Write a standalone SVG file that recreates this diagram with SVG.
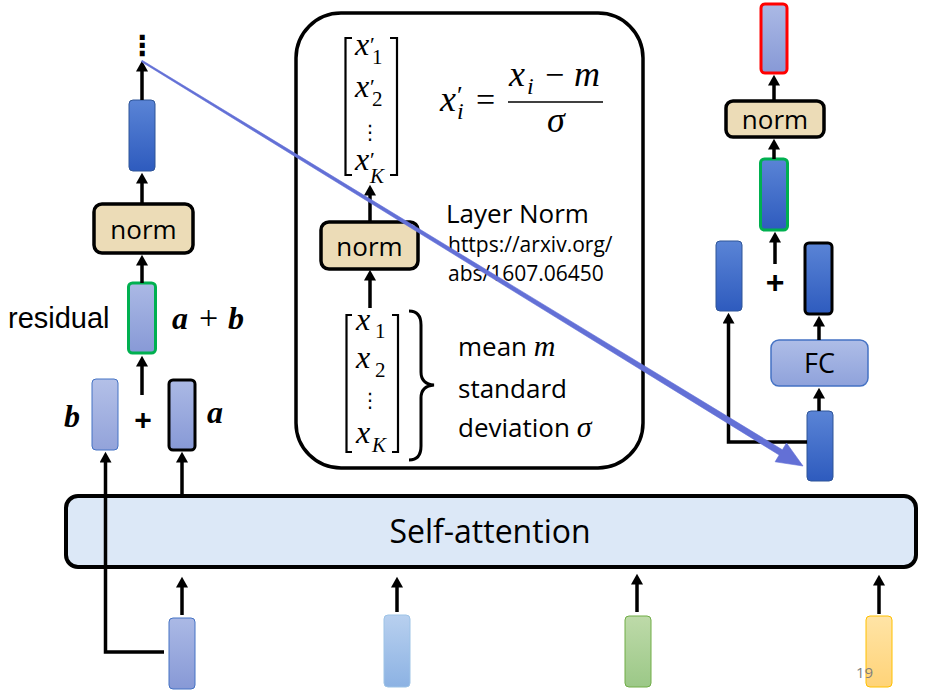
<svg xmlns="http://www.w3.org/2000/svg" width="935" height="692" viewBox="0 0 935 692">
<defs>
<linearGradient id="gDark" x1="0" y1="0" x2="0" y2="1"><stop offset="0" stop-color="#5a84d6"/><stop offset="1" stop-color="#2e5bbe"/></linearGradient>
<linearGradient id="gLight" x1="0" y1="0" x2="0" y2="1"><stop offset="0" stop-color="#abb9e5"/><stop offset="1" stop-color="#8799d6"/></linearGradient>
<linearGradient id="gSky" x1="0" y1="0" x2="0" y2="1"><stop offset="0" stop-color="#b8d0ef"/><stop offset="1" stop-color="#8cb2e3"/></linearGradient>
<linearGradient id="gGreen" x1="0" y1="0" x2="0" y2="1"><stop offset="0" stop-color="#bedaa9"/><stop offset="1" stop-color="#9bc887"/></linearGradient>
<linearGradient id="gYellow" x1="0" y1="0" x2="0" y2="1"><stop offset="0" stop-color="#ffe4a6"/><stop offset="1" stop-color="#ffd378"/></linearGradient>
<linearGradient id="gFC" x1="0" y1="0" x2="0" y2="1"><stop offset="0" stop-color="#aebde7"/><stop offset="1" stop-color="#8fa2db"/></linearGradient>
<marker id="ah" markerUnits="userSpaceOnUse" markerWidth="12" markerHeight="12" viewBox="0 0 10 11" refX="6" refY="5.5" orient="auto"><path d="M0,0 L10,5.5 L0,11 z" fill="#000"/></marker>
<style>
.sans{font-family:"Open Sans","Liberation Sans",sans-serif;fill:#000}
.arial{font-family:"Liberation Sans",Arial,sans-serif;fill:#000}
.mi{font-family:"Liberation Serif","DejaVu Serif",serif;font-style:italic;fill:#000}
.mr{font-family:"Liberation Serif","DejaVu Serif",serif;font-style:normal;fill:#000}
.mb{font-family:"Liberation Serif","DejaVu Serif",serif;font-style:italic;font-weight:bold;fill:#000}
.vd{font-family:"DejaVu Sans",sans-serif;fill:#000}
.norm{fill:#ecdcb7;stroke:#000;stroke-width:3.5}
.dark{fill:url(#gDark);stroke:#2f5597;stroke-width:1}
.light{fill:url(#gLight);stroke:#4472c4;stroke-width:1}
.conn line,.conn path.a{stroke:#000;stroke-width:3.5;fill:none;marker-end:url(#ah)}
.br{fill:none;stroke:#000;stroke-width:2.2}
</style>
</defs>
<rect width="935" height="692" fill="#fff"/>

<!-- left column -->
<g id="dots-left"><text x="142" y="55" class="vd" font-size="28" font-weight="bold" text-anchor="middle">⋮</text></g>
<g id="left-out"><rect x="129" y="100" width="26" height="71" rx="4" class="dark"/></g>
<g id="left-norm"><rect x="94" y="204" width="99" height="49" rx="8" class="norm"/><text x="143.5" y="239" class="sans" font-size="26" text-anchor="middle">norm</text></g>
<g id="left-residual"><rect x="128.5" y="283" width="27" height="70" rx="4" fill="url(#gLight)" stroke="#00b050" stroke-width="3"/>
<text x="8" y="328" class="arial" font-size="29">residual</text>
<text y="329" class="mb" font-size="32"><tspan x="172">a</tspan><tspan x="199" class="mr" font-weight="normal" font-size="34">+</tspan><tspan x="228">b</tspan></text></g>
<g id="left-b"><rect x="92" y="379" width="26" height="71" rx="4" class="light" fill-opacity="0.9"/><text x="64" y="427" class="mb" font-size="32">b</text></g>
<g id="left-plus"><text x="143" y="430" class="arial" font-size="30" font-weight="bold" text-anchor="middle">+</text></g>
<g id="left-a"><rect x="169" y="380" width="26" height="70" rx="4" fill="url(#gLight)" stroke="#000" stroke-width="3"/><text x="207" y="423" class="mb" font-size="32">a</text></g>

<!-- middle panel -->
<g id="layernorm-panel">
<rect x="296" y="13" width="347" height="455" rx="45" fill="#fff" stroke="#000" stroke-width="3.5"/>
<path class="br" d="M352,38 H345.5 V175 H352"/>
<path class="br" d="M390,38 H397 V175 H390"/>
<text x="355" y="55" class="mi" font-size="32">x<tspan class="mr" font-size="22" x="370" dy="-3">′</tspan><tspan class="mr" font-size="21" x="372" dy="12">1</tspan></text>
<text x="355" y="97" class="mi" font-size="32">x<tspan class="mr" font-size="22" x="370" dy="-3">′</tspan><tspan class="mr" font-size="21" x="372" dy="12">2</tspan></text>
<text x="370" y="139" class="vd" font-size="20" text-anchor="middle">⋮</text>
<text x="355" y="170" class="mi" font-size="32">x<tspan class="mr" font-size="22" x="370" dy="-3">′</tspan><tspan font-size="21" x="370" dy="16">K</tspan></text>
<text x="440" y="111" class="mi" font-size="36">x<tspan class="mr" font-size="26" x="457" dy="-7">′</tspan><tspan font-size="24" x="457" dy="15">i</tspan></text>
<text x="476" y="111" class="mr" font-size="34">=</text>
<text x="509" y="86" class="mi" font-size="36">x<tspan font-size="24" x="527" dy="8">i</tspan><tspan class="mr" font-size="34" x="545" dy="-8">−</tspan><tspan x="574">m</tspan></text>
<line x1="508" y1="102" x2="603" y2="102" stroke="#000" stroke-width="1.6"/>
<text x="547" y="132" class="mi" font-size="36">σ</text>
<text x="446" y="223" class="sans" font-size="26">Layer Norm</text>
<text x="448" y="252" class="sans" font-size="21">https://arxiv.org/</text>
<text x="448" y="281" class="sans" font-size="21">abs/1607.06450</text>
<path class="br" d="M352,315 H346.5 V452 H352"/>
<path class="br" d="M392,315 H398 V452 H392"/>
<text x="356" y="330" class="mi" font-size="32">x<tspan class="mr" font-size="21" x="375" dy="8">1</tspan></text>
<text x="356" y="368" class="mi" font-size="32">x<tspan class="mr" font-size="21" x="375" dy="9">2</tspan></text>
<text x="370" y="407" class="vd" font-size="20" text-anchor="middle">⋮</text>
<text x="356" y="443" class="mi" font-size="32">x<tspan font-size="21" x="372" dy="9">K</tspan></text>
<path d="M409,311 Q421,311 421,325 L421,372 Q421,384 434,385 Q421,386 421,398 L421,446 Q421,460 409,460" fill="none" stroke="#000" stroke-width="3"/>
<text x="458" y="356" class="sans" font-size="26">mean <tspan class="mi" font-size="30">m</tspan></text>
<text x="458" y="398" class="sans" font-size="26">standard</text>
<text x="458" y="437" class="sans" font-size="26">deviation <tspan class="mi" font-size="30">σ</tspan></text>
</g>
<g id="mid-norm"><rect x="321" y="222" width="97" height="47" rx="8" class="norm"/><text x="369.5" y="256" class="sans" font-size="26" text-anchor="middle">norm</text></g>

<!-- right column -->
<g id="right-out"><rect x="761" y="4" width="26" height="69" rx="4" fill="url(#gLight)" stroke="#ff0000" stroke-width="3"/></g>
<g id="right-norm"><rect x="726" y="101" width="98" height="36" rx="7" class="norm"/><text x="775" y="129" class="sans" font-size="26" text-anchor="middle">norm</text></g>
<g id="right-sum"><rect x="760.5" y="159" width="27" height="71" rx="4" fill="url(#gDark)" stroke="#00b050" stroke-width="3"/></g>
<g id="right-plus"><text x="775" y="293" class="arial" font-size="32" font-weight="bold" text-anchor="middle">+</text></g>
<g id="right-skip"><rect x="716" y="241" width="26" height="70" rx="4" class="dark"/></g>
<g id="right-fcout"><rect x="805" y="243" width="27" height="71" rx="4" fill="url(#gDark)" stroke="#000" stroke-width="3"/></g>
<g id="right-fc"><rect x="771" y="340" width="97" height="46" rx="8" fill="url(#gFC)" stroke="#4472c4" stroke-width="1.5"/><text x="819.5" y="373" class="sans" font-size="27" text-anchor="middle">FC</text></g>
<g id="right-in"><rect x="807" y="411" width="26" height="70" rx="4" class="dark"/></g>

<!-- self-attention -->
<g id="self-attention"><rect x="66" y="496" width="850" height="71" rx="12" fill="#dce8f7" stroke="#000" stroke-width="4"/><text x="490" y="543" class="sans" font-size="32" text-anchor="middle">Self-attention</text></g>

<!-- inputs -->
<g id="in1"><rect x="169" y="618" width="26" height="71" rx="4" class="light"/></g>
<g id="in2"><rect x="384" y="615" width="26" height="72" rx="4" fill="url(#gSky)" stroke="#9dc3e6" stroke-width="1"/></g>
<g id="in3"><rect x="625" y="616" width="26" height="71" rx="4" fill="url(#gGreen)" stroke="#70ad47" stroke-width="1"/></g>
<g id="in4"><rect x="866" y="616" width="26" height="71" rx="4" fill="url(#gYellow)" stroke="#ffc000" stroke-width="1"/></g>
<g id="page-num"><text x="856" y="678" font-family="Open Sans, Liberation Sans, sans-serif" font-size="15" fill="#7f7f7f">19</text></g>

<!-- connectors -->
<g id="connectors" class="conn">
<line x1="142" y1="100" x2="142" y2="65"/>
<line x1="142" y1="204" x2="142" y2="177"/>
<line x1="142" y1="283" x2="142" y2="259"/>
<line x1="142" y1="395" x2="142" y2="360"/>
<path class="a" d="M164,652 H105.5 V456"/>
<line x1="182" y1="496" x2="182" y2="456"/>
<line x1="182" y1="615" x2="182" y2="581"/>
<line x1="397" y1="612" x2="397" y2="581"/>
<line x1="637" y1="612" x2="637" y2="578"/>
<line x1="879" y1="614" x2="879" y2="579"/>
<line x1="370" y1="222" x2="370" y2="189"/>
<line x1="370" y1="308" x2="370" y2="274"/>
<line x1="774" y1="101" x2="774" y2="79"/>
<line x1="774" y1="159" x2="774" y2="143"/>
<line x1="775" y1="264" x2="775" y2="236"/>
<line x1="819" y1="340" x2="819" y2="320"/>
<line x1="819" y1="411" x2="819" y2="392"/>
<path class="a" d="M807,442 H728.5 V317"/>
<polygon points="142.1,60.3 782.4,449.8 786.5,443 803,466 775.1,461.8 779.2,455 141.3,61.7" fill="#6370d6" stroke="#6370d6" stroke-width="0.6" stroke-linejoin="round"/>
</g>
</svg>
